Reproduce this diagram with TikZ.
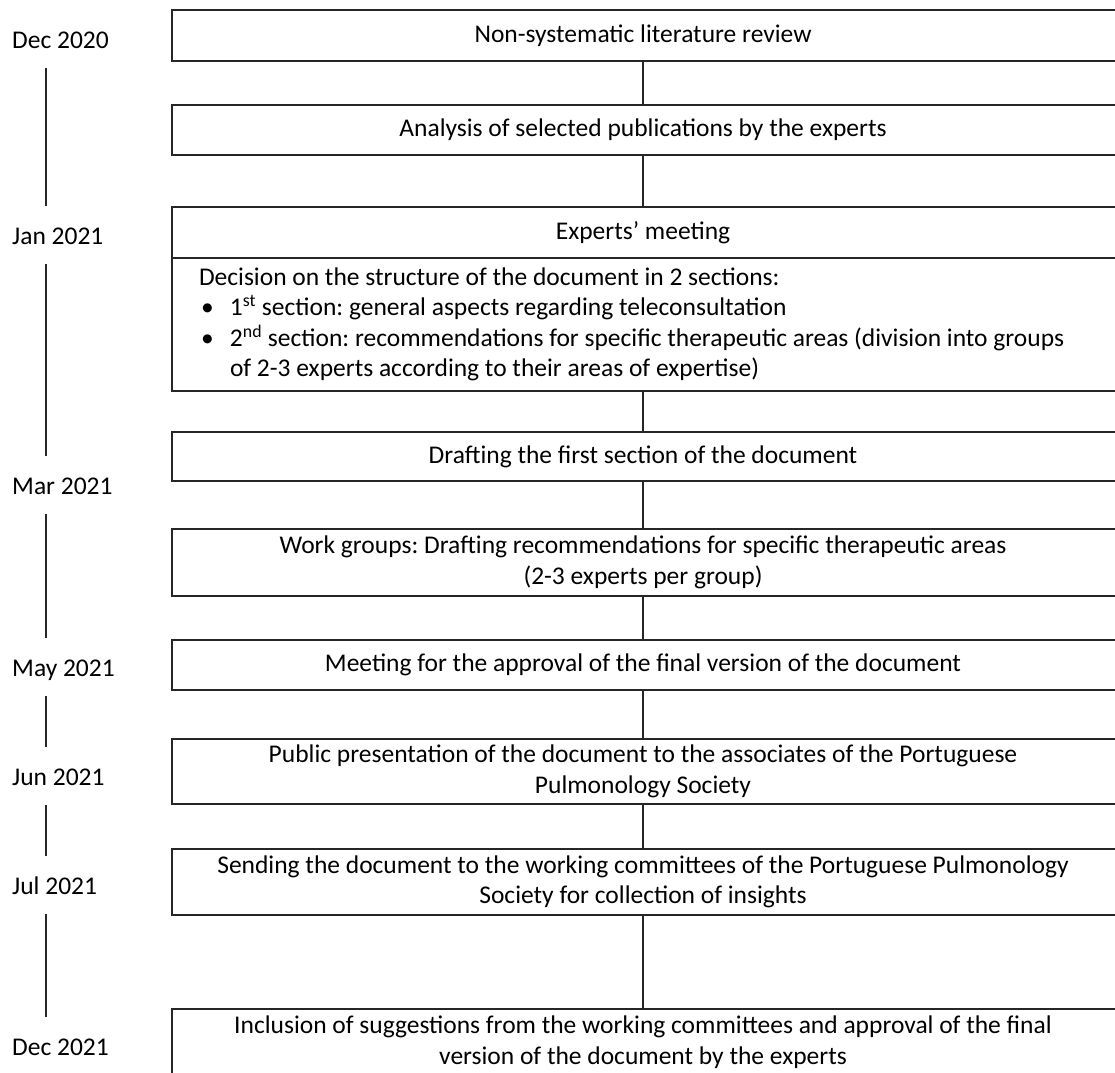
\documentclass[tikz,border=0pt]{standalone}
\usepackage{fontspec}
\setmainfont{Carlito}
\usetikzlibrary{calc}
\frenchspacing

\tikzset{
  stage/.style={minimum width=942pt, inner xsep=10pt, inner ysep=0pt, text width=900pt, align=flush center,
    font=\fontsize{25.5}{30.5}\selectfont},
  frame/.style={line width=1.5pt, color=black!85},
  date/.style={anchor=west, inner sep=0pt, text height=17pt, text depth=0pt, font=\fontsize{25.5}{30.5}\selectfont},
  tline/.style={line width=1.3pt, color=black!85, shorten <=27.5pt, shorten >=30pt},
}
\newcommand{\bulitem}[1]{\makebox[31pt][l]{\hspace{2pt}\textbullet}#1}

\begin{document}
\begin{tikzpicture}[x=1pt, y=-1pt]
	%%%%% START %%%%%
	\useasboundingbox (0,0) rectangle (1115,1072);
	\clip (0,0) rectangle (1115,1072);
	
	% stages
	\node[stage, minimum height=51pt] (b1) at (643, 35.5) {Non-systematic literature review};
	\node[stage, minimum height=50pt] (b2) at (643, 130) {Analysis of selected publications by the experts};
	\node[stage, minimum height=51pt] (b3) at (643, 232.5) {Experts’ meeting};
	\node[stage, minimum height=133pt, text width=888pt, inner xsep=27pt, align=flush left] (b4) at (643, 324.5) {Decision on the structure of the document in 2 sections:\\
		\bulitem{1\textsuperscript{st} section: general aspects regarding teleconsultation}\\
		\bulitem{2\textsuperscript{nd} section: recommendations for specific therapeutic areas (division into groups}\\
		\hspace*{31pt}of 2-3 experts according to their areas of expertise)};
	\node[stage, minimum height=49pt] (b5) at (643, 456.5) {Drafting the first section of the document};
	\node[stage, minimum height=67pt] (b6) at (643, 562.5) {Work groups: Drafting recommendations for specific therapeutic areas\\(2-3 experts per group)};
	\node[stage, minimum height=50pt] (b7) at (643, 665) {Meeting for the approval of the final version of the document};
	\node[stage, minimum height=65pt] (b8) at (643, 771.5) {Public presentation of the document to the associates of the Portuguese\\Pulmonology Society};
	\node[stage, minimum height=66pt] (b9) at (643, 882) {Sending the document to the working committees of the Portuguese Pulmonology\\Society for collection of insights};
	\node[stage, minimum height=66pt] (b10) at (643, 1042) {Inclusion of suggestions from the working committees and approval of the final\\version of the document by the experts};
	
	% open frames, cut at the right edge
	\foreach \b in {b1,b2,b3,b4,b5,b6,b7,b8,b9,b10}
		\draw[frame] ([xshift=30pt]\b.north east) -| (\b.south west) -- ([xshift=30pt]\b.south east);
	
	% links
	\draw[frame] (b1) -- (b2);
	\draw[frame] (b2) -- (b3);
	\draw[frame] (b4) -- (b5);
	\draw[frame] (b5) -- (b6);
	\draw[frame] (b6) -- (b7);
	\draw[frame] (b7) -- (b8);
	\draw[frame] (b8) -- (b9);
	\draw[frame] (b9) -- (b10);
	
	% time line
	\coordinate (tl) at (46, 0);
	\node[date] (d1) at (12, 40) {Dec 2020};
	\node[date] (d2) at (12, 236) {Jan 2021};
	\node[date] (d3) at (12, 486) {Mar 2021};
	\node[date] (d4) at (12, 668) {May 2021};
	\node[date] (d5) at (12, 777) {Jun 2021};
	\node[date] (d6) at (12, 886) {Jul 2021};
	\node[date] (d7) at (12, 1047) {Dec 2021};
	
	\draw[tline] (d1.center -| tl) -- (d2.center -| tl);
	\draw[tline] (d2.center -| tl) -- (d3.center -| tl);
	\draw[tline] (d3.center -| tl) -- (d4.center -| tl);
	\draw[tline] (d4.center -| tl) -- (d5.center -| tl);
	\draw[tline] (d5.center -| tl) -- (d6.center -| tl);
	\draw[tline] (d6.center -| tl) -- (d7.center -| tl);
	
	%%%%% END %%%%%
\end{tikzpicture}
\end{document}
